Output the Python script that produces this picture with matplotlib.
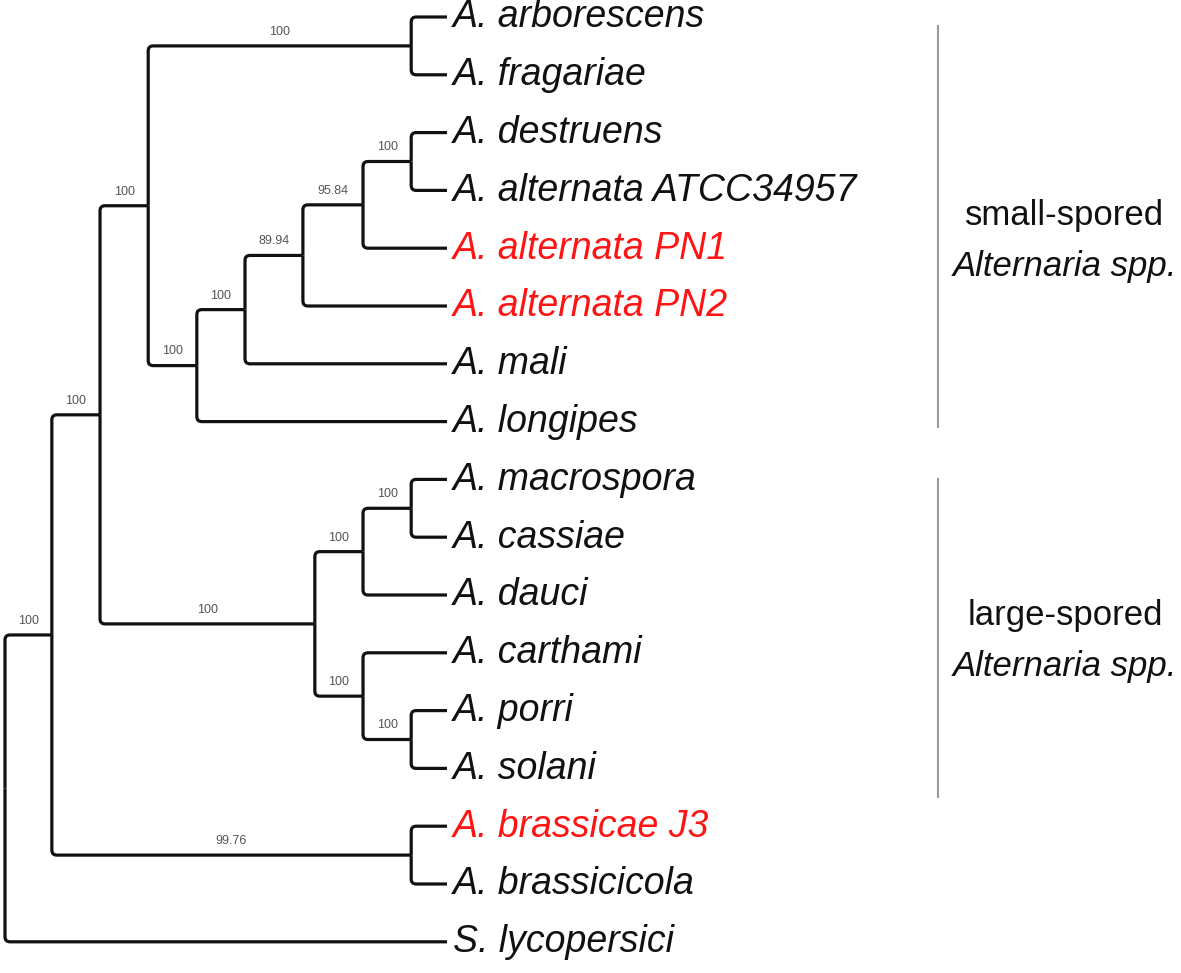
import matplotlib
matplotlib.use("Agg")
import matplotlib.pyplot as plt
from matplotlib.path import Path
from matplotlib.patches import PathPatch

plt.rcParams['font.family'] = ['Liberation Sans', 'DejaVu Sans']

# tip labels, top to bottom
leaves = ["A. arborescens", "A. fragariae", "A. destruens", "A. alternata ATCC34957",
          "A. alternata PN1", "A. alternata PN2", "A. mali", "A. longipes",
          "A. macrospora", "A. cassiae", "A. dauci", "A. carthami", "A. porri",
          "A. solani", "A. brassicae J3", "A. brassicicola", "S. lycopersici"]
highlight = ["A. alternata PN1", "A. alternata PN2", "A. brassicae J3"]

# internal nodes: id -> children, depth (root = 0, tips = 1), bootstrap support
node_children = {
    "root": ["n1", "S. lycopersici"],
    "n1": ["n2", "n14"],
    "n2": ["n3", "n9"],
    "n3": ["n4", "n5"],
    "n4": ["A. arborescens", "A. fragariae"],
    "n5": ["n6", "A. longipes"],
    "n6": ["n7", "A. mali"],
    "n7": ["n8", "A. alternata PN2"],
    "n8": ["n8b", "A. alternata PN1"],
    "n8b": ["A. destruens", "A. alternata ATCC34957"],
    "n9": ["n10", "n12"],
    "n10": ["n11", "A. dauci"],
    "n11": ["A. macrospora", "A. cassiae"],
    "n12": ["A. carthami", "n13"],
    "n13": ["A. porri", "A. solani"],
    "n14": ["A. brassicae J3", "A. brassicicola"],
}
node_depth = {"root": 0.0, "n1": 0.106, "n2": 0.215, "n3": 0.324, "n4": 0.919,
              "n5": 0.434, "n6": 0.543, "n7": 0.674, "n8": 0.810, "n8b": 0.919,
              "n9": 0.701, "n10": 0.810, "n11": 0.919, "n12": 0.810, "n13": 0.919,
              "n14": 0.919}
node_support = {"n1": "100", "n2": "100", "n3": "100", "n4": "100", "n5": "100",
                "n6": "100", "n7": "89.94", "n8": "95.84", "n8b": "100", "n9": "100",
                "n10": "100", "n11": "100", "n12": "100", "n13": "100", "n14": "99.76"}

# clade bars on the right: label, bar extent (rows), row where the label block sits
group_names = ["small-spored", "large-spored"]
group_span = [(0.15, 7.1), (8.0, 13.5)]
group_text_row = [3.82, 10.74]


def pos(name):
    if name in leaves:
        return 1.0, leaves.index(name)
    ys = [pos(c)[1] for c in node_children[name]]
    return node_depth[name], (min(ys) + max(ys)) / 2


fig = plt.figure(figsize=(11.81, 9.73), dpi=100)
ax = fig.add_axes([0, 0, 1, 1])
ax.set_xlim(-5 / 442, 1176 / 442)
ax.set_ylim(956 / 57.8, -17 / 57.8)
ax.axis("off")

# corner radius, about 5 px in each direction
rx, ry = 5 / 442, 5 / 57.8

for node, kids in node_children.items():
    nx, ny = pos(node)
    for k in kids:
        kx, ky = pos(k)
        sgn = 1 if ky > ny else -1
        verts = [(nx, ny), (nx, ky - sgn * ry), (nx, ky), (nx + rx, ky), (kx, ky)]
        codes = [Path.MOVETO, Path.LINETO, Path.CURVE3, Path.CURVE3, Path.LINETO]
        ax.add_patch(PathPatch(Path(verts, codes), facecolor="none",
                               edgecolor="#111111", lw=2.3, capstyle="butt"))
        if k in node_support:
            ax.annotate(node_support[k], ((nx + kx) / 2, ky), xytext=(0, 8),
                        textcoords="offset points", ha="center", va="baseline",
                        fontsize=9, color="#555555")

for i, name in enumerate(leaves):
    ax.annotate(name, (1.0, i), xytext=(4.3, -7.5), textcoords="offset points",
                ha="left", va="baseline", fontsize=27, style="italic",
                color="#ff1414" if name in highlight else "#111111")

bar_x = 2.111
text_x = 2.398
for gname, (a, b), mid in zip(group_names, group_span, group_text_row):
    ax.plot([bar_x, bar_x], [a, b], color="#9a9a9a", lw=1.5)
    ax.annotate(gname, (text_x, mid), xytext=(0, 9), textcoords="offset points",
                ha="center", va="baseline", fontsize=25, color="#111111")
    ax.annotate("Alternaria spp.", (text_x, mid), xytext=(0, -27.5),
                textcoords="offset points", ha="center", va="baseline",
                fontsize=25, style="italic", color="#111111")

fig.savefig("out.png", dpi=100, facecolor="white")
